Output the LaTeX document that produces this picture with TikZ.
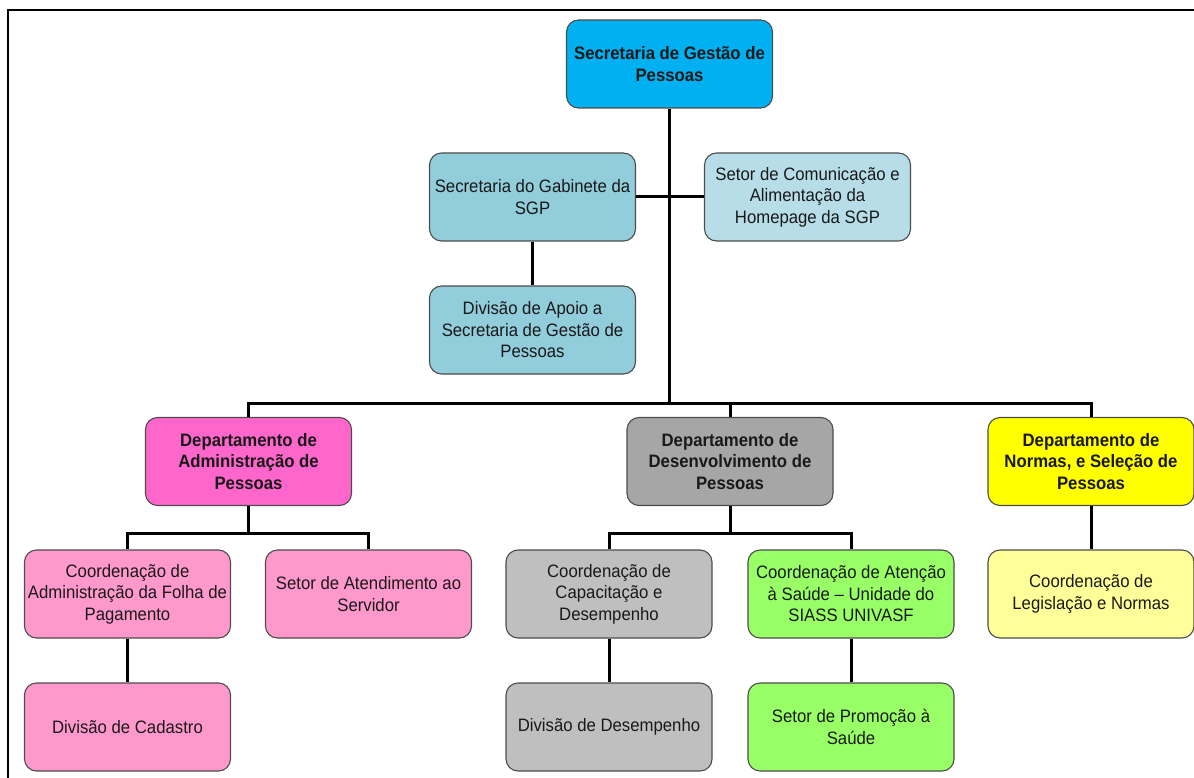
\documentclass[tikz,border=0pt]{standalone}
\usepackage{fontspec}
\setmainfont{Liberation Sans}[FakeStretch=0.93]
\tikzset{
  unit/.style={draw=black!70, line width=1.1pt, rounded corners=12pt, minimum width=206pt, minimum height=88pt, inner sep=1pt, align=center, text=black!90, font=\fontsize{18}{21.5}\selectfont},
  head/.style={unit, font=\fontsize{18}{21.5}\selectfont\bfseries},
  link/.style={draw=black, line width=3pt}
}
\begin{document}
\begin{tikzpicture}[x=1pt, y=-1pt]
\useasboundingbox (0,0) rectangle (1194,778);
\definecolor{sgpcol}{HTML}{00B0F0}
\definecolor{gabcol}{HTML}{92CDDC}
\definecolor{comcol}{HTML}{B7DEE8}
\definecolor{dapcol}{HTML}{FF66CC}
\definecolor{dapsub}{HTML}{FF99CC}
\definecolor{ddpcol}{HTML}{A6A6A6}
\definecolor{ddpsub}{HTML}{BFBFBF}
\definecolor{saucol}{HTML}{99FF66}
\definecolor{dnpcol}{HTML}{FFFF00}
\definecolor{dnpsub}{HTML}{FFFF99}
% frame
\draw[line width=2pt] (8,778) -- (8,10) -- (1194,10);
% top level
\node[head, fill=sgpcol] (sgp) at (669.5,64) {Secretaria de Gestão de\\Pessoas};
\node[unit, fill=gabcol] (gab) at (532.5,197) {Secretaria do Gabinete da\\SGP};
\node[unit, fill=comcol] (com) at (807.5,197) {Setor de Comunicação e\\Alimentação da\\Homepage da SGP};
\node[unit, fill=gabcol] (apoio) at (532.5,330) {Divisão de Apoio a\\Secretaria de Gestão de\\Pessoas};
% departments
\node[head, fill=dapcol] (dap) at (248.5,461.5) {Departamento de\\Administração de\\Pessoas};
\node[head, fill=ddpcol] (ddp) at (730,461.5) {Departamento de\\Desenvolvimento de\\Pessoas};
\node[head, fill=dnpcol] (dnp) at (1091,461.5) {Departamento de\\Normas, e Seleção de\\Pessoas};
% units
\node[unit, fill=dapsub] (folha) at (127.5,594) {Coordenação de\\Administração da Folha de\\Pagamento};
\node[unit, fill=dapsub] (atend) at (368.5,594) {Setor de Atendimento ao\\Servidor};
\node[unit, fill=dapsub] (cad) at (127.5,727) {Divisão de Cadastro};
\node[unit, fill=ddpsub] (capac) at (609,594) {Coordenação de\\Capacitação e\\Desempenho};
\node[unit, fill=saucol] (saude) at (851,594) {Coordenação de Atenção\\à Saúde -- Unidade do\\SIASS UNIVASF};
\node[unit, fill=ddpsub] (desemp) at (609,727) {Divisão de Desempenho};
\node[unit, fill=saucol] (promo) at (851,727) {Setor de Promoção à\\Saúde};
\node[unit, fill=dnpsub] (legis) at (1091,594) {Coordenação de\\Legislação e Normas};
% connectors
\coordinate (bus) at (0,403);
\coordinate (busa) at (0,533);
\draw[link] (sgp) -- (sgp |- bus);
\draw[link] (gab) -- (com);
\draw[link] (gab) -- (apoio);
\draw[link] (dap) -- (dap |- bus) -- (dnp |- bus) -- (dnp);
\draw[link] (ddp) -- (ddp |- bus);
\draw[link] (dap) -- (dap |- busa);
\draw[link] (folha) -- (folha |- busa) -- (atend |- busa) -- (atend);
\draw[link] (folha) -- (cad);
\draw[link] (ddp) -- (ddp |- busa);
\draw[link] (capac) -- (capac |- busa) -- (saude |- busa) -- (saude);
\draw[link] (capac) -- (desemp);
\draw[link] (saude) -- (promo);
\draw[link] (dnp) -- (legis);
\end{tikzpicture}
\end{document}
